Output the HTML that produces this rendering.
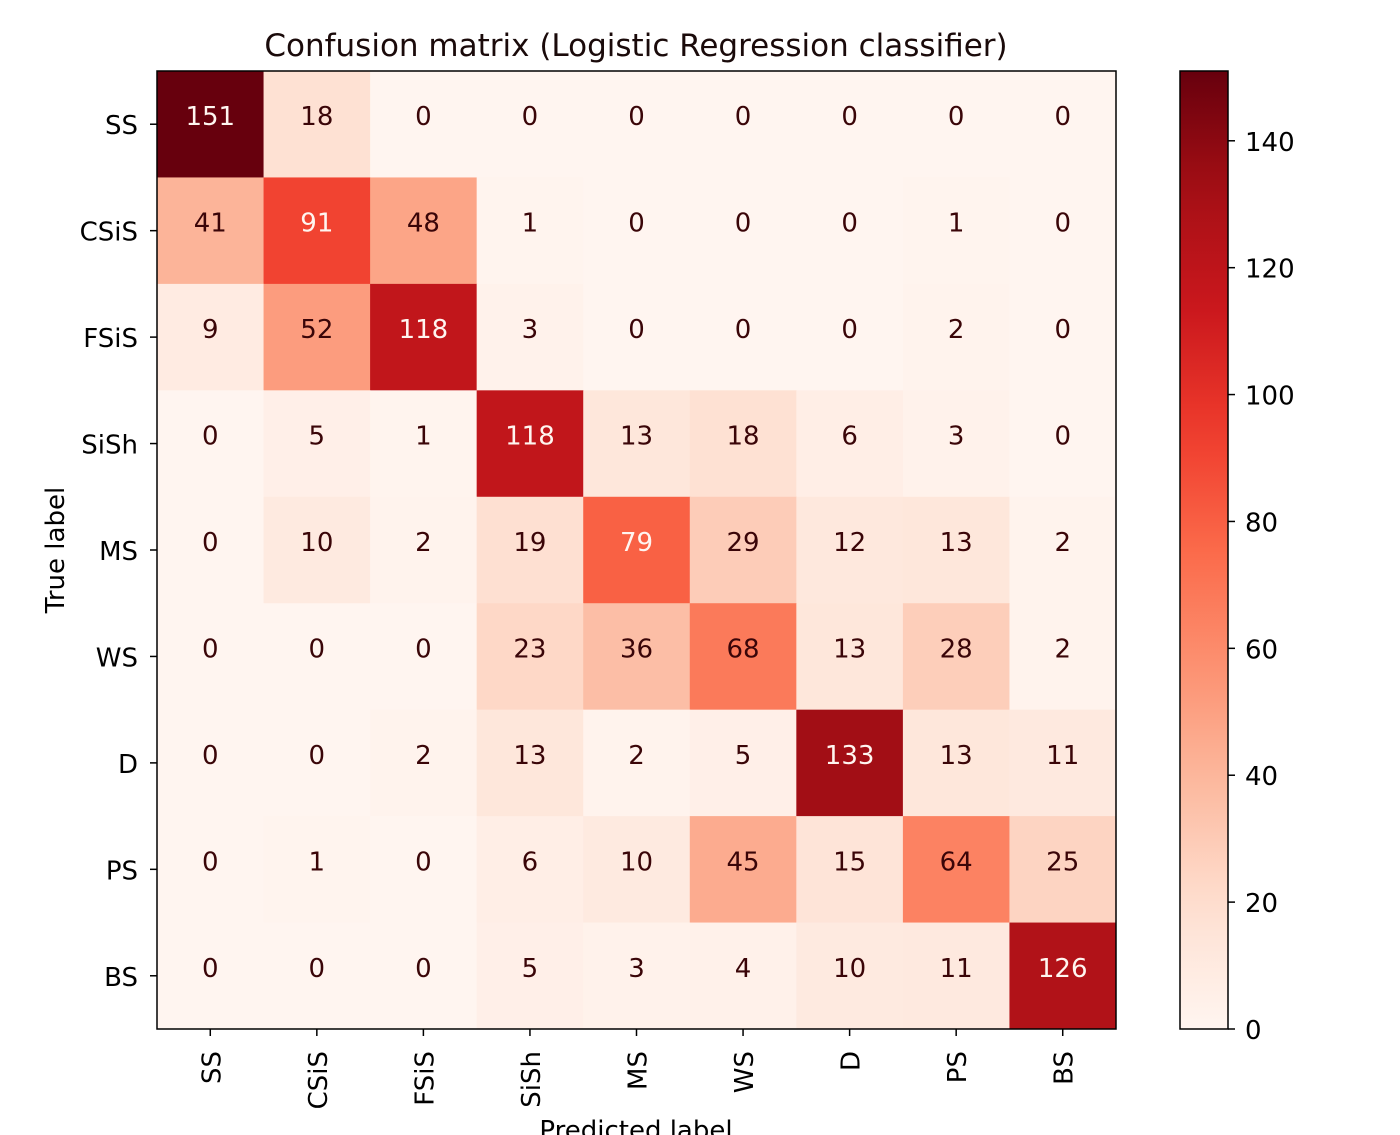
<!DOCTYPE html>
<html><head><meta charset="utf-8">
<style>
html,body{margin:0;padding:0;background:#fff;}
svg{display:block;font-family:"DejaVu Sans","Liberation Sans",sans-serif;}
</style></head>
<body>
<svg id="chart" width="1400" height="1135" viewBox="0 0 1400 1135" xmlns="http://www.w3.org/2000/svg">
<text x="636" y="56" font-size="31" text-anchor="middle" fill="#1a0a0a">Confusion matrix (Logistic Regression classifier)</text>
<g id="cells"></g>
<g id="vals"></g>
<rect x="157" y="71" width="959" height="958" fill="none" stroke="#000" stroke-width="1.5"/>
<g id="xt"></g>
<g id="yt"></g>
<text x="636" y="1139" font-size="26" text-anchor="middle">Predicted label</text>
<text transform="translate(64,550) rotate(-90)" font-size="26" text-anchor="middle">True label</text>
<defs><linearGradient id="cg" x1="0" y1="1" x2="0" y2="0"></linearGradient></defs>
<rect x="1180" y="71" width="48" height="958" fill="url(#cg)" stroke="#000" stroke-width="1.5"/>
<g id="ct"></g>
</svg>
<script>
const labels = ["SS","CSiS","FSiS","SiSh","MS","WS","D","PS","BS"];
const row0 = [151,18,0,0,0,0,0,0,0];
const row1 = [41,91,48,1,0,0,0,1,0];
const row2 = [9,52,118,3,0,0,0,2,0];
const row3 = [0,5,1,118,13,18,6,3,0];
const row4 = [0,10,2,19,79,29,12,13,2];
const row5 = [0,0,0,23,36,68,13,28,2];
const row6 = [0,0,2,13,2,5,133,13,11];
const row7 = [0,1,0,6,10,45,15,64,25];
const row8 = [0,0,0,5,3,4,10,11,126];
const matrix = [row0,row1,row2,row3,row4,row5,row6,row7,row8];
const cbTicks = [0,20,40,60,80,100,120,140];

const NS="http://www.w3.org/2000/svg";
const X0=157,Y0=71,W=959,H=958,N=labels.length;
const vmax=Math.max(...matrix.flat()), vmin=0;
const cw=W/N, ch=H/N;
const stops=["#fff5f0","#fee0d2","#fcbba1","#fc9272","#fb6a4a","#ef3b2c","#cb181d","#a50f15","#67000d"];
function hex(h){return [1,3,5].map(i=>parseInt(h.substr(i,2),16));}
function cmap(t){t=Math.max(0,Math.min(1,t));const s=t*(stops.length-1);const i=Math.min(Math.floor(s),stops.length-2);const f=s-i;const a=hex(stops[i]),b=hex(stops[i+1]);return "rgb("+a.map((v,k)=>Math.round(v+(b[k]-v)*f)).join(",")+")";}
function xs(j){return X0+j*cw;}
function ys(i){return Y0+i*ch;}
function mk(tag,attrs,parent){const e=document.createElementNS(NS,tag);for(const k in attrs)e.setAttribute(k,attrs[k]);parent.appendChild(e);return e;}
const cells=document.getElementById('cells'),vals=document.getElementById('vals');
matrix.forEach((row,i)=>row.forEach((v,j)=>{
  const r=mk('rect',{x:xs(j),y:ys(i),width:cw+0.5,height:ch+0.5,fill:cmap((v-vmin)/(vmax-vmin))},cells);
  
  
  const t=mk('text',{x:xs(j)+cw/2,y:ys(i)+ch/2+1,'font-size':26,'text-anchor':'middle',fill:v>(vmax+vmin)/2?'#fff5f0':'#3a0508'},vals);
  
  
  t.textContent=v;
}));
const xt=document.getElementById('xt'),yt=document.getElementById('yt');
labels.forEach((l,k)=>{
  const cx=xs(k)+cw/2, cy=ys(k)+ch/2;
  mk('line',{x1:cx,y1:Y0+H,x2:cx,y2:Y0+H+7,stroke:'#000','stroke-width':1.5},xt);
  const t=mk('text',{transform:'translate('+(cx+10)+','+(Y0+H+22)+') rotate(-90)','font-size':26,'text-anchor':'end'},xt);
  
  
  t.textContent=l;
  mk('line',{x1:X0-7,y1:cy,x2:X0,y2:cy,stroke:'#000','stroke-width':1.5},yt);
  const u=mk('text',{x:X0-19,y:cy+10,'font-size':26,'text-anchor':'end'},yt);
  
  
  u.textContent=l;
});
const g=document.getElementById('cg');
for(let k=0;k<=20;k++){mk('stop',{offset:(k/20),'stop-color':cmap(k/20)},g);}
const ct=document.getElementById('ct');
cbTicks.forEach(v=>{
  const y=Y0+H-(v-vmin)/(vmax-vmin)*H;
  mk('line',{x1:1228,y1:y,x2:1235,y2:y,stroke:'#000','stroke-width':1.5},ct);
  const t=mk('text',{x:1245,y:y+10,'font-size':26},ct);
  
  
  t.textContent=v;
});
</script>
</body></html>
